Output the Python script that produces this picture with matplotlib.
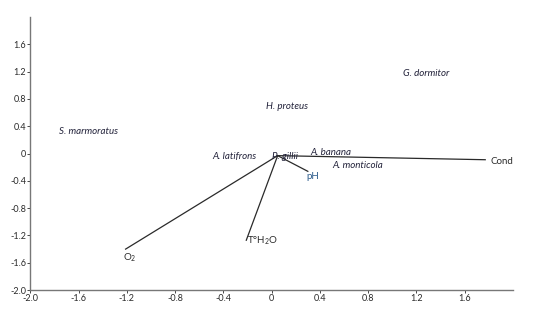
import matplotlib
matplotlib.use("Agg")
import matplotlib.pyplot as plt

# Species scores
species = ["S. marmoratus", "H. proteus", "G. dormitor", "A. latifrons",
           "P. gillii", "A. banana", "A. monticola"]
species_x = [-1.52, 0.13, 1.28, -0.31, 0.11, 0.49, 0.71]
species_y = [0.32, 0.69, 1.18, -0.04, -0.04, 0.01, -0.18]

# Environmental vectors (start at common origin)
origin = (0.05, -0.03)
env_vars = ["Cond", "O$_2$", "T°H$_2$O", "pH"]
env_x = [1.77, -1.21, -0.21, 0.30]
env_y = [-0.09, -1.40, -1.27, -0.26]

ticks = [-2.0, -1.6, -1.2, -0.8, -0.4, 0, 0.4, 0.8, 1.2, 1.6]
tick_labels = ["-2.0", "-1.6", "-1.2", "-0.8", "-0.4", "0", "0.4", "0.8", "1.2", "1.6"]

plt.rcParams['font.family'] = ['Lato', 'DejaVu Sans']
plt.rcParams['mathtext.fontset'] = 'custom'
plt.rcParams['mathtext.rm'] = 'Lato'

fig = plt.figure(figsize=(5.4, 3.17), dpi=100)
ax = fig.add_axes([0.056, 0.085, 0.894, 0.861])

# Vectors
for x, y in zip(env_x, env_y):
    ax.plot([origin[0], x], [origin[1], y], color="#2a2a2a", lw=0.9)

# Vector labels
ax.text(env_x[0] + 0.04, env_y[0] - 0.02, env_vars[0], fontsize=7,
        color="#2a2a2a", ha="left", va="center")
ax.text(env_x[1] - 0.02, env_y[1] - 0.12, env_vars[1], fontsize=7,
        color="#2a2a2a", ha="left", va="center")
ax.text(env_x[2] + 0.01, env_y[2] - 0.01, env_vars[2], fontsize=7,
        color="#2a2a2a", ha="left", va="center")
ax.text(env_x[3] - 0.01, env_y[3] - 0.07, env_vars[3], fontsize=7,
        color="#2a5a8a", ha="left", va="center")

# Species labels
for name, x, y in zip(species, species_x, species_y):
    ax.text(x, y, name, fontsize=7, style="italic", color="#22223a",
            ha="center", va="center")

ax.set_xlim(-2.0, 2.0)
ax.set_ylim(-2.0, 2.0)
ax.set_xticks(ticks)
ax.set_xticklabels(tick_labels)
ax.set_yticks(ticks)
ax.set_yticklabels(tick_labels)
ax.tick_params(labelsize=6.5, colors="#2a2a2a", length=2, width=0.6, pad=1)
for side in ["top", "right"]:
    ax.spines[side].set_visible(False)
for side in ["left", "bottom"]:
    ax.spines[side].set_color("#777777")
    ax.spines[side].set_linewidth(1.0)

fig.savefig("out.png", dpi=100)
